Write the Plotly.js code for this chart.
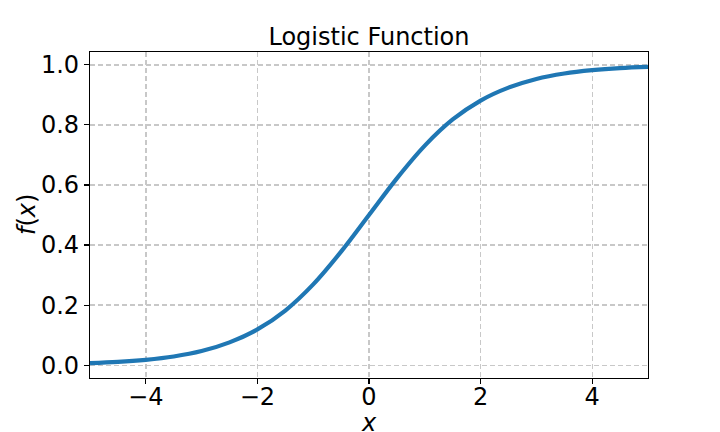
<!DOCTYPE html>
<html>
<head>
<meta charset="utf-8">
<script src="https://cdn.plot.ly/plotly-3.0.1.min.js"></script>
<style>html,body{margin:0;padding:0;background:#fff;}#chart{width:720px;height:432px;}</style>
</head>
<body>
<div id="chart"></div>
<script>
// Values
const xValues = [-5, -4.5, -4, -3.5, -3, -2.5, -2, -1.5, -1, -0.5, 0, 0.5, 1, 1.5, 2, 2.5, 3, 3.5, 4, 4.5, 5];
const fValues = [0.007, 0.011, 0.018, 0.029, 0.047, 0.076, 0.119, 0.182, 0.269, 0.378, 0.5, 0.622, 0.731, 0.818, 0.881, 0.924, 0.953, 0.971, 0.982, 0.989, 0.993];
const xTicks = [-4, -2, 0, 2, 4];
const yTicks = [0.0, 0.2, 0.4, 0.6, 0.8, 1.0];
const yTickLabels = ["0.0", "0.2", "0.4", "0.6", "0.8", "1.0"];

const font = "DejaVu Sans, sans-serif";
const fs = 24;

const trace = {
  x: xValues,
  y: fValues,
  type: "scatter",
  mode: "lines",
  line: {color: "#1f77b4", width: 4.2, shape: "spline", smoothing: 1},
  hoverinfo: "skip"
};

const axisCommon = {
  showline: true,
  mirror: true,
  linecolor: "#000",
  linewidth: 1.1,
  ticks: "outside",
  ticklen: 5,
  tickwidth: 1.1,
  tickcolor: "#000",
  showgrid: true,
  gridcolor: "#c8c8c8",
  gridwidth: 1.4,
  griddash: "5px,3px",
  zeroline: false,
  tickfont: {family: font, size: fs, color: "#000"}
};

const layout = {
  width: 720,
  height: 432,
  paper_bgcolor: "#fff",
  plot_bgcolor: "#fff",
  margin: {l: 90, r: 72, t: 52, b: 54, pad: 0},
  showlegend: false,
  font: {family: font, color: "#000"},
  title: {
    text: "Logistic Function",
    font: {family: font, size: fs, color: "#000"},
    x: 0.5, xref: "paper", xanchor: "center",
    y: 1 - 37/432, yref: "container", yanchor: "middle"
  },
  xaxis: Object.assign({}, axisCommon, {
    range: [-5, 5],
    tickmode: "array",
    tickvals: xTicks,
    ticktext: xTicks.map(v => v < 0 ? "\u2212" + Math.abs(v) : String(v)),
    ticklabelstandoff: -8
  }),
  yaxis: Object.assign({}, axisCommon, {
    range: [-0.0426, 1.0426],
    tickmode: "array",
    tickvals: yTicks,
    ticktext: yTickLabels
  }),
  annotations: [
    {text: "<i>x</i>", xref: "paper", yref: "paper", x: 0.5, y: (378 - 423) / 326,
     xanchor: "center", yanchor: "middle", showarrow: false,
     font: {family: font, size: fs, color: "#000"}},
    {text: "<i>f</i>(<i>x</i>)", xref: "paper", yref: "paper", x: (27 - 90) / 558, y: 0.5,
     xanchor: "center", yanchor: "middle", showarrow: false, textangle: -90,
     font: {family: font, size: fs, color: "#000"}}
  ]
};

Plotly.newPlot("chart", [trace], layout, {staticPlot: true, displayModeBar: false});
</script>
</body>
</html>
